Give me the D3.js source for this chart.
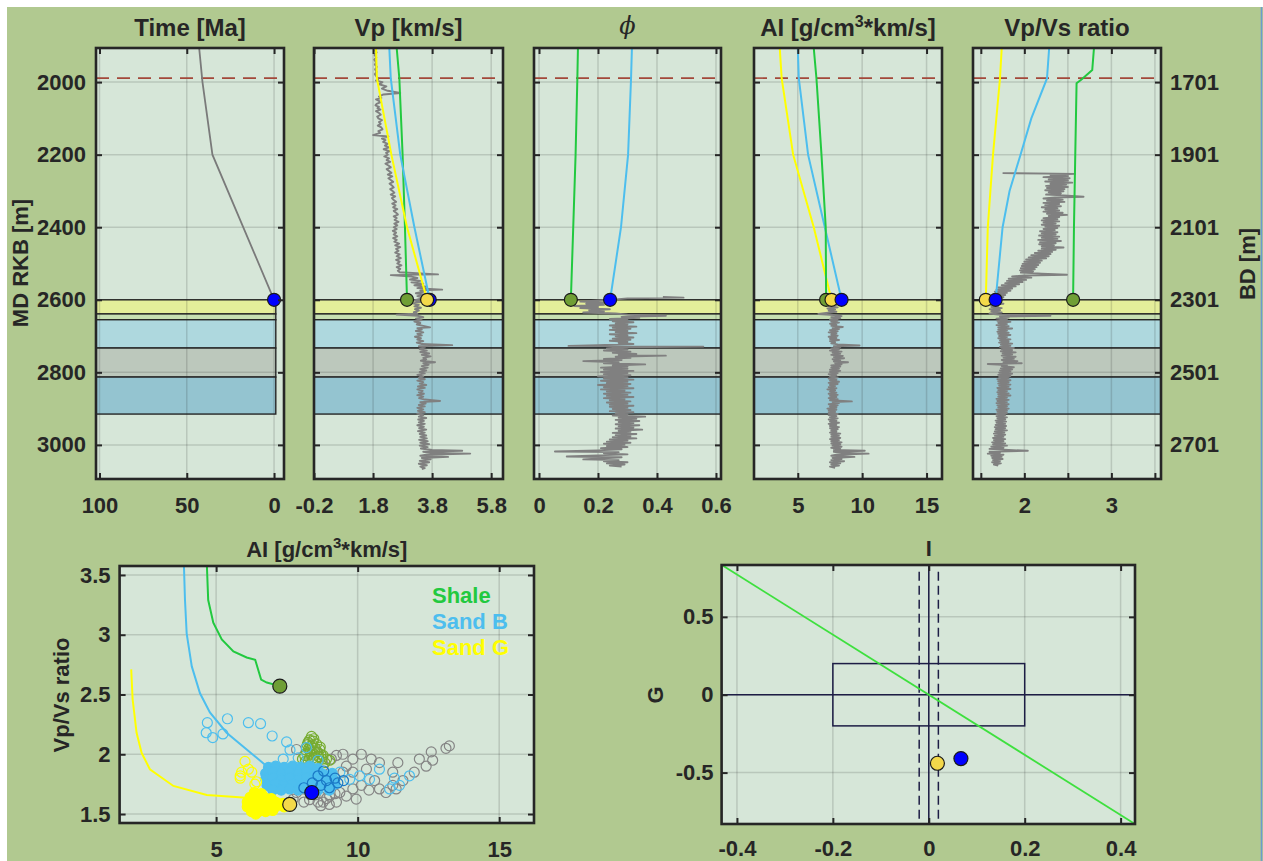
<!DOCTYPE html>
<html>
<head>
<meta charset="utf-8">
<script src="https://cdn.jsdelivr.net/npm/d3@7"></script>
<style>
	body { margin: 0; background: #fff; }
	svg text { font-family: "Liberation Sans", Arial, sans-serif; font-weight: bold; fill: #262626; }
</style>
</head>
<body>
<div class="fig"></div>
<script>
// ---------- data ----------
const depthTicks = [2000, 2200, 2400, 2600, 2800, 3000]
const bdLabels = ["1701", "1901", "2101", "2301", "2501", "2701"]
const markerDepth = 1989

const layerTop = [2600, 2639, 2655, 2733, 2813]
const layerBase = [2639, 2655, 2733, 2813, 2915]

const timeTicks = [100, 50, 0]
const vpTicks = [-0.2, 1.8, 3.8, 5.8]
const phiTicks = [0, 0.2, 0.4, 0.6]
const aiTicks = [5, 10, 15]
const vpvsTicks = [1.5, 2, 2.5, 3, 3.5]
const vpvsTickLabels = ["", "2", "", "3", ""]

// burial history
const timeDepth = [1906, 2000, 2200, 2600]
const timeMa = [42.9, 41, 35.3, 0]

// model trends
const trendDepth = [1906, 1990, 2200, 2400, 2600]
const vpShale = [2.6, 2.69, 2.8, 2.88, 2.95]
const vpSandB = [2.35, 2.4, 2.72, 3.2, 3.72]
const vpSandG = [1.9, 1.93, 2.42, 2.95, 3.63]
const phiShale = [0.132, 0.13, 0.124, 0.116, 0.108]
const phiSandB = [0.315, 0.312, 0.302, 0.278, 0.241]
const aiShale = [6.24, 6.45, 6.84, 7.17, 7.2]
const aiSandB = [5.0, 5.08, 5.8, 7.1, 8.4]
const aiSandG = [3.6, 3.75, 4.64, 6.24, 7.62]
const vpvsShaleDepth = [1906, 1967, 1992, 2003, 2200, 2400, 2600]
const vpvsShale = [2.8, 2.78, 2.66, 2.6, 2.585, 2.57, 2.56]
const vpvsSandBDepth = [1906, 1990, 2100, 2200, 2300, 2400, 2500, 2600]
const vpvsSandB = [2.285, 2.26, 2.08, 1.956, 1.83, 1.75, 1.71, 1.67]
const vpvsSandG = [1.74, 1.72, 1.64, 1.58, 1.557]

// well logs [depth, value]
const vpLog = [[1912,1.86],[1918,1.92],[1925,1.85],[1932,1.91],[1938,1.84],[1945,1.9],[1952,1.86],[1958,1.93],[1965,1.87],[1972,1.92],[1978,1.86],[1985,1.92],[1992,1.97],[1996,1.9],[2000,2.12],[2006,2.0],[2012,2.25],[2018,2.1],[2024,2.3],[2030,2.72],[2034,2.15],[2040,2.0],[2044,2.08],[2048,1.9],[2052,2.0],[2056,2.04],[2060,1.92],[2064,1.88],[2068,2.0],[2072,1.95],[2076,2.05],[2080,1.9],[2085,2.0],[2090,2.06],[2095,1.94],[2100,1.98],[2105,2.1],[2110,2.0],[2115,2.06],[2120,1.96],[2125,2.08],[2130,2.12],[2135,1.98],[2140,2.04],[2146,1.8],[2150,2.32],[2156,2.1],[2160,2.22],[2165,2.14],[2170,2.3],[2175,2.2],[2180,2.34],[2185,2.16],[2190,2.36],[2195,2.24],[2200,2.3],[2205,2.18],[2210,2.34],[2215,2.26],[2220,2.38],[2225,2.22],[2230,2.32],[2235,2.4],[2240,2.26],[2245,2.34],[2250,2.42],[2255,2.3],[2260,2.45],[2265,2.32],[2270,2.4],[2275,2.48],[2280,2.36],[2285,2.44],[2290,2.5],[2295,2.38],[2300,2.46],[2305,2.52],[2310,2.4],[2315,2.55],[2320,2.44],[2325,2.5],[2330,2.58],[2335,2.45],[2340,2.56],[2345,2.48],[2350,2.62],[2355,2.5],[2360,2.58],[2365,2.64],[2370,2.5],[2375,2.6],[2380,2.53],[2385,2.66],[2390,2.52],[2395,2.62],[2400,2.5],[2405,2.6],[2410,2.47],[2415,2.58],[2420,2.5],[2425,2.62],[2430,2.48],[2435,2.6],[2440,2.52],[2445,2.68],[2450,2.55],[2455,2.72],[2460,2.58],[2465,2.66],[2470,2.55],[2475,2.7],[2480,2.6],[2485,2.74],[2490,2.58],[2495,2.7],[2500,2.62],[2505,2.76],[2510,2.6],[2515,2.72],[2520,2.64],[2524,2.7],[2530,4.0],[2532,2.4],[2536,3.1],[2540,3.3],[2544,3.05],[2548,3.4],[2552,3.1],[2556,3.5],[2560,3.2],[2564,3.6],[2568,3.3],[2572,4.14],[2574,3.4],[2578,3.5],[2582,3.25],[2586,3.55],[2590,3.3],[2594,3.5],[2598,3.35],[2602,3.2],[2606,3.4],[2610,3.15],[2614,3.35],[2618,3.2],[2622,3.42],[2626,3.22],[2630,3.35],[2634,3.18],[2638,3.3],[2641,2.6],[2644,3.3],[2648,3.5],[2652,3.25],[2656,3.45],[2660,3.2],[2664,3.4],[2668,3.28],[2672,3.5],[2676,3.73],[2678,3.3],[2682,3.45],[2686,3.25],[2690,3.5],[2694,3.3],[2698,3.45],[2702,3.22],[2706,3.42],[2710,3.3],[2714,3.5],[2718,3.28],[2722,3.45],[2725,4.48],[2728,3.35],[2732,3.55],[2736,3.38],[2740,3.62],[2744,3.4],[2748,3.7],[2752,3.45],[2756,3.75],[2760,3.5],[2764,3.6],[2768,3.42],[2772,3.9],[2775,3.5],[2779,3.68],[2783,3.45],[2787,3.65],[2791,3.4],[2795,3.6],[2799,3.38],[2803,3.55],[2807,3.3],[2811,3.5],[2815,3.35],[2819,3.55],[2823,3.3],[2827,3.5],[2831,3.38],[2835,3.6],[2839,3.32],[2843,3.55],[2847,3.3],[2851,3.48],[2855,3.35],[2859,3.52],[2863,3.3],[2867,3.5],[2871,3.36],[2875,3.55],[2879,4.07],[2882,3.4],[2886,3.58],[2890,3.35],[2894,3.55],[2898,3.3],[2902,3.5],[2906,3.32],[2910,3.55],[2914,3.3],[2918,3.5],[2922,3.35],[2926,3.6],[2930,3.33],[2934,3.52],[2938,3.35],[2942,3.55],[2946,3.3],[2950,3.52],[2954,3.36],[2958,3.6],[2962,3.32],[2966,3.55],[2970,3.38],[2974,3.6],[2978,3.4],[2982,3.62],[2986,3.36],[2990,3.65],[2994,3.4],[2998,3.7],[3002,3.38],[3006,3.65],[3010,3.42],[3014,3.8],[3016,4.82],[3019,3.5],[3022,3.75],[3024,5.09],[3027,3.6],[3030,3.4],[3033,4.34],[3036,3.45],[3040,3.75],[3044,3.38],[3048,3.7],[3052,3.35],[3056,3.62],[3060,3.4],[3064,3.55],[3067,3.45]]

const phiLog = [[2592,0.42],[2594,0.49],[2596,0.3],[2599,0.26],[2602,0.2],[2605,0.14],[2608,0.24],[2611,0.16],[2614,0.22],[2617,0.12],[2620,0.2],[2623,0.14],[2626,0.24],[2629,0.17],[2632,0.22],[2635,0.15],[2638,0.26],[2641,0.3],[2644,0.43],[2647,0.28],[2650,0.34],[2653,0.24],[2656,0.3],[2659,0.25],[2662,0.32],[2665,0.26],[2668,0.3],[2671,0.24],[2674,0.33],[2677,0.25],[2680,0.31],[2683,0.24],[2686,0.3],[2689,0.26],[2692,0.33],[2695,0.24],[2698,0.3],[2701,0.26],[2704,0.32],[2707,0.25],[2710,0.31],[2713,0.24],[2716,0.3],[2719,0.27],[2722,0.32],[2725,0.2],[2727,0.1],[2729,0.557],[2731,0.28],[2734,0.23],[2737,0.3],[2740,0.22],[2743,0.31],[2746,0.25],[2749,0.33],[2752,0.27],[2754,0.43],[2757,0.26],[2760,0.31],[2763,0.22],[2766,0.28],[2769,0.15],[2772,0.27],[2775,0.22],[2778,0.36],[2781,0.25],[2784,0.3],[2787,0.21],[2790,0.3],[2793,0.22],[2796,0.32],[2799,0.21],[2802,0.3],[2805,0.22],[2808,0.31],[2811,0.2],[2814,0.3],[2817,0.22],[2820,0.32],[2823,0.21],[2826,0.3],[2829,0.23],[2832,0.31],[2835,0.2],[2838,0.3],[2841,0.22],[2844,0.32],[2847,0.21],[2850,0.29],[2853,0.23],[2856,0.31],[2859,0.22],[2862,0.3],[2865,0.23],[2868,0.32],[2871,0.22],[2874,0.29],[2877,0.24],[2880,0.31],[2883,0.23],[2886,0.3],[2889,0.24],[2892,0.32],[2895,0.24],[2898,0.3],[2901,0.25],[2904,0.31],[2907,0.24],[2910,0.32],[2913,0.26],[2916,0.3],[2919,0.25],[2922,0.36],[2925,0.27],[2928,0.33],[2931,0.26],[2934,0.34],[2937,0.27],[2940,0.32],[2943,0.26],[2946,0.34],[2949,0.27],[2952,0.32],[2955,0.26],[2958,0.35],[2961,0.27],[2964,0.31],[2967,0.25],[2970,0.33],[2973,0.26],[2976,0.31],[2979,0.25],[2982,0.33],[2985,0.24],[2988,0.3],[2991,0.23],[2994,0.31],[2997,0.22],[3000,0.29],[3003,0.23],[3006,0.3],[3009,0.21],[3012,0.28],[3015,0.2],[3018,0.054],[3020,0.27],[3023,0.22],[3026,0.3],[3029,0.2],[3032,0.094],[3034,0.28],[3037,0.22],[3040,0.15],[3042,0.27],[3045,0.22],[3048,0.3],[3051,0.23],[3054,0.29],[3057,0.24],[3060,0.28]]

const aiLog = [[2597,8.6],[2600,7.6],[2603,8.3],[2606,7.5],[2609,8.2],[2612,7.3],[2615,8.0],[2618,7.4],[2621,8.1],[2624,7.3],[2627,7.9],[2630,7.4],[2633,8.0],[2636,7.2],[2639,6.6],[2642,7.8],[2645,8.4],[2648,7.6],[2651,8.3],[2654,7.5],[2657,8.1],[2660,7.6],[2663,8.2],[2666,7.5],[2669,8.0],[2672,7.6],[2675,8.5],[2678,7.7],[2681,8.2],[2684,7.5],[2687,8.1],[2690,7.4],[2693,8.0],[2696,7.6],[2699,8.1],[2702,7.4],[2705,8.0],[2708,7.5],[2711,8.2],[2714,7.5],[2717,7.9],[2720,7.6],[2723,8.1],[2726,9.8],[2728,7.8],[2731,8.3],[2734,7.6],[2737,8.2],[2740,7.5],[2743,8.4],[2746,7.7],[2749,8.3],[2752,7.6],[2755,8.5],[2758,7.8],[2761,8.6],[2764,7.7],[2767,8.3],[2770,7.8],[2772,8.9],[2775,7.9],[2778,8.4],[2781,7.6],[2784,8.3],[2787,7.6],[2790,8.2],[2793,7.5],[2796,8.3],[2799,7.5],[2802,8.1],[2805,7.4],[2808,8.0],[2811,7.5],[2814,8.1],[2817,7.4],[2820,8.0],[2823,7.5],[2826,8.2],[2829,7.4],[2832,8.1],[2835,7.5],[2838,7.9],[2841,7.4],[2844,8.0],[2847,7.3],[2850,7.9],[2853,7.5],[2856,8.0],[2859,7.4],[2862,8.1],[2865,7.5],[2868,8.0],[2871,7.4],[2874,8.1],[2877,7.5],[2880,9.2],[2882,7.7],[2885,8.2],[2888,7.4],[2891,8.1],[2894,7.5],[2897,8.0],[2900,7.3],[2903,8.0],[2906,7.4],[2909,7.9],[2912,7.4],[2915,8.1],[2918,7.4],[2921,8.0],[2924,7.5],[2927,8.1],[2930,7.4],[2933,8.0],[2936,7.5],[2939,8.2],[2942,7.4],[2945,8.0],[2948,7.5],[2951,8.2],[2954,7.5],[2957,8.1],[2960,7.6],[2963,8.0],[2966,7.5],[2969,8.3],[2972,7.6],[2975,8.2],[2978,7.6],[2981,8.3],[2984,7.5],[2987,8.2],[2990,7.6],[2993,8.4],[2996,7.6],[2999,8.3],[3002,7.7],[3005,8.4],[3008,7.6],[3011,8.3],[3014,7.8],[3016,10.2],[3019,7.8],[3022,8.4],[3024,10.5],[3027,8.0],[3030,7.6],[3033,9.4],[3036,7.7],[3039,8.4],[3042,7.6],[3045,8.6],[3048,7.5],[3051,8.3],[3054,7.6],[3057,8.2],[3060,7.5],[3063,7.9]]

const vpvsLog = [[2251,1.75],[2253,2.58],[2256,2.3],[2259,2.5],[2262,2.22],[2265,2.52],[2268,2.28],[2271,2.5],[2274,2.24],[2277,2.55],[2280,2.3],[2283,2.48],[2286,2.25],[2289,2.5],[2292,2.26],[2295,2.46],[2298,2.24],[2301,2.45],[2304,2.28],[2307,2.42],[2310,2.25],[2313,2.5],[2316,2.68],[2318,2.35],[2321,2.22],[2324,2.44],[2327,2.26],[2330,2.46],[2333,2.22],[2336,2.4],[2339,2.24],[2342,2.42],[2345,2.2],[2348,2.38],[2351,2.24],[2354,2.4],[2357,2.22],[2360,2.44],[2363,2.26],[2366,2.49],[2369,2.28],[2372,2.4],[2375,2.22],[2378,2.38],[2381,2.2],[2384,2.4],[2387,2.22],[2390,2.36],[2393,2.2],[2396,2.4],[2399,2.24],[2402,2.38],[2405,2.22],[2408,2.35],[2411,2.18],[2414,2.38],[2417,2.2],[2420,2.36],[2423,2.17],[2426,2.4],[2429,2.2],[2432,2.38],[2435,2.16],[2438,2.42],[2441,2.18],[2444,2.36],[2447,2.17],[2450,2.34],[2453,2.2],[2456,2.45],[2459,2.2],[2462,2.36],[2465,2.16],[2468,2.32],[2471,2.12],[2474,2.3],[2477,2.08],[2480,2.28],[2483,2.05],[2486,2.25],[2489,2.02],[2492,2.2],[2495,2.0],[2498,2.18],[2501,1.98],[2504,2.16],[2507,1.97],[2510,2.14],[2513,1.96],[2516,2.12],[2519,1.95],[2522,2.1],[2525,1.96],[2528,2.2],[2531,2.49],[2533,2.0],[2536,1.86],[2539,2.08],[2542,1.82],[2545,2.02],[2548,1.8],[2551,1.98],[2554,1.78],[2557,1.94],[2560,1.74],[2563,1.9],[2566,1.7],[2569,1.86],[2572,1.68],[2575,1.84],[2578,1.66],[2581,1.8],[2584,1.65],[2587,1.78],[2590,1.64],[2593,1.76],[2596,1.62],[2599,1.74],[2602,1.6],[2605,1.72],[2608,1.62],[2611,1.76],[2614,1.6],[2617,1.7],[2620,1.62],[2623,1.74],[2626,1.6],[2629,1.72],[2632,1.62],[2635,1.74],[2638,1.6],[2641,1.7],[2644,2.3],[2646,1.72],[2649,1.82],[2652,1.68],[2655,1.8],[2658,1.69],[2661,1.84],[2664,1.7],[2667,1.8],[2670,1.68],[2673,1.82],[2676,1.7],[2679,1.86],[2682,1.7],[2685,1.8],[2688,1.69],[2691,1.82],[2694,1.7],[2697,1.84],[2700,1.71],[2703,1.8],[2706,1.7],[2709,1.84],[2712,1.72],[2715,1.82],[2718,1.71],[2721,1.86],[2724,1.73],[2727,1.84],[2730,1.72],[2733,1.88],[2736,1.74],[2739,1.86],[2742,1.73],[2745,1.9],[2748,1.75],[2751,1.86],[2754,1.74],[2757,1.9],[2760,1.76],[2763,1.88],[2766,1.74],[2769,1.92],[2772,1.76],[2775,1.97],[2777,1.58],[2780,1.8],[2783,1.74],[2786,1.88],[2789,1.73],[2792,1.86],[2795,1.72],[2798,1.84],[2801,1.71],[2804,1.86],[2807,1.7],[2810,1.84],[2813,1.71],[2816,1.82],[2819,1.69],[2822,1.84],[2825,1.7],[2828,1.82],[2831,1.7],[2834,1.84],[2837,1.71],[2840,1.82],[2843,1.69],[2846,1.84],[2849,1.7],[2852,1.8],[2855,1.69],[2858,1.82],[2861,1.7],[2864,1.84],[2867,1.7],[2870,1.8],[2873,1.68],[2876,1.82],[2879,1.69],[2882,1.8],[2885,1.68],[2888,1.82],[2891,1.69],[2894,1.8],[2897,1.7],[2900,1.82],[2903,1.68],[2906,1.8],[2909,1.69],[2912,1.8],[2915,1.68],[2918,1.78],[2921,1.68],[2924,1.8],[2927,1.69],[2930,1.78],[2933,1.67],[2936,1.79],[2939,1.68],[2942,1.78],[2945,1.67],[2948,1.79],[2951,1.66],[2954,1.78],[2957,1.67],[2960,1.8],[2963,1.66],[2966,1.77],[2969,1.65],[2972,1.78],[2975,1.66],[2978,1.76],[2981,1.64],[2984,1.78],[2987,1.65],[2990,1.76],[2993,1.63],[2996,1.78],[2999,1.64],[3002,1.8],[3005,1.62],[3008,1.76],[3011,1.6],[3014,1.82],[3016,2.04],[3019,1.6],[3022,1.72],[3024,1.58],[3027,1.76],[3030,1.62],[3033,1.74],[3036,1.63],[3039,1.75],[3042,1.64],[3045,1.72],[3048,1.63],[3051,1.73],[3054,1.65],[3057,1.7]]

// crossplot AI vs Vp/Vs
const scAITicks = [5, 10, 15]
const scVpVsTicks = [1.5, 2, 2.5, 3, 3.5]
const scShaleAI = [4.67, 4.72, 4.9, 5.2, 5.61, 6.08, 6.38, 6.59, 6.79, 7.25]
const scShaleVpVs = [3.6, 3.29, 3.1, 2.96, 2.86, 2.81, 2.79, 2.625, 2.6, 2.57]
const scSandBAI = [3.86, 3.9, 3.96, 4.14, 4.43, 4.78, 5.37, 6.08, 6.79, 7.02, 8.38]
const scSandBVpVs = [3.6, 3.29, 3.01, 2.735, 2.51, 2.35, 2.18, 2.04, 1.9, 1.84, 1.68]
const scSandGAI = [2.0, 2.05, 2.19, 2.37, 2.66, 3.49, 4.67, 6.2, 7.6]
const scSandGVpVs = [2.71, 2.46, 2.18, 2.01, 1.875, 1.735, 1.66, 1.634, 1.58]

const otherPts = [[13.24,2.07],[13.12,2.05],[12.6,2.02],[12.65,1.95],[12.18,1.96],[12.42,1.9],[11.42,1.93],[11.24,1.85],[10.77,1.93],[10.48,1.96],[10.13,2.0],[9.83,1.96],[9.48,2.0],[9.07,1.96],[8.78,1.9],[9.83,1.85],[10.31,1.875],[9.83,1.71],[9.37,1.68],[9.01,1.65],[8.78,1.6],[8.6,1.6],[9.25,1.6],[9.95,1.625],[10.77,1.71],[11.0,1.68],[11.36,1.71],[11.24,1.74],[7.84,1.68],[7.72,1.625],[8.07,1.71],[8.9,1.71],[9.48,1.85],[9.25,1.99],[8.55,2.02],[7.84,2.04],[9.6,1.9],[10.13,1.74],[9.13,1.79],[8.5,1.66],[8.9,1.63],[9.2,1.67],[8.3,1.62],[9.6,1.65],[10.4,1.7],[10.6,1.78],[11.6,1.78],[12.0,1.85],[8.1,1.6],[8.7,1.57],[9.0,1.58]]
const shalePts = [[8.37,2.15],[8.43,2.11],[8.25,2.1],[8.55,2.085],[8.19,2.056],[8.66,2.04],[8.31,2.03],[8.49,2.02],[8.13,1.99],[8.78,1.99],[8.43,1.97],[9.01,1.95],[8.25,1.95],[8.6,1.95],[8.9,1.96],[8.35,2.07],[8.5,2.05],[8.7,2.0],[8.2,2.01],[8.05,1.96],[8.3,2.12],[8.45,2.13],[8.4,2.08],[8.28,2.05],[8.58,2.02],[8.36,2.0],[8.62,1.98],[8.3,1.97],[8.75,1.96],[8.15,1.94],[8.52,1.94],[8.84,1.93],[8.4,1.93],[8.68,2.06],[8.22,2.08]]
const sandBPts = [[4.69,2.264],[5.4,2.297],[4.65,2.18],[4.88,2.14],[5.24,2.17],[6.14,2.264],[6.57,2.256],[6.98,2.153],[7.49,2.103],[7.61,2.036],[8.19,2.056],[7.37,1.96],[11.83,1.82],[11.48,1.74],[11.13,1.71],[10.77,1.875],[10.42,1.79],[10.07,1.82],[9.72,1.79],[9.37,1.85],[11.3,1.8],[7.9,1.97],[8.6,1.95]]
const sandBDense = [[6.85,1.89],[7.1,1.9],[7.4,1.89],[7.7,1.9],[8.0,1.89],[8.3,1.9],[8.6,1.88],[6.75,1.84],[7.0,1.85],[7.3,1.84],[7.6,1.85],[7.9,1.84],[8.2,1.85],[8.5,1.84],[8.8,1.83],[9.1,1.84],[6.75,1.79],[7.0,1.8],[7.3,1.79],[7.6,1.8],[7.9,1.79],[8.2,1.8],[8.5,1.79],[8.8,1.78],[9.1,1.79],[6.8,1.74],[7.1,1.75],[7.4,1.74],[7.7,1.75],[8.0,1.74],[8.3,1.75],[8.6,1.74],[8.9,1.74],[9.2,1.75],[7.0,1.7],[7.3,1.7],[7.6,1.71],[7.9,1.7],[8.2,1.71],[8.6,1.7],[9.0,1.7]]
const sandB2Pts = [[8.6,1.82],[8.9,1.78],[9.2,1.8],[8.7,1.74],[9.0,1.72],[8.4,1.76],[9.3,1.76],[8.8,1.86],[8.1,1.72],[9.5,1.78]]
const sandGPts = [[6.02,1.94],[5.9,1.85],[5.85,1.8],[6.14,1.875],[6.26,1.85],[6.43,1.77],[5.85,1.82],[6.37,1.75]]
const sandGDense = [[6.35,1.68],[6.6,1.67],[6.2,1.64],[6.45,1.64],[6.7,1.64],[6.95,1.63],[6.1,1.6],[6.35,1.6],[6.6,1.6],[6.85,1.6],[7.1,1.6],[7.35,1.59],[6.1,1.56],[6.35,1.56],[6.6,1.56],[6.85,1.56],[7.1,1.56],[7.4,1.56],[6.25,1.52],[6.5,1.52],[6.75,1.52],[7.0,1.53],[6.4,1.5]]
const legendNames = ["Shale", "Sand B", "Sand G"]

// AVO intercept / gradient
const iTicks = [-0.4, -0.2, 0, 0.2, 0.4]
const gTicks = [-0.5, 0, 0.5]
const trendLineI = [-0.43, 0.43]
const trendLineG = [0.83, -0.83]
const boxI = [-0.2, 0.2]
const boxG = [-0.2, 0.2]
const dashI = [-0.02, 0.02]
const sandBIG = [0.067, -0.41]
const sandGIG = [0.018, -0.44]

// ---------- styles ----------
const ink = "#262626"
const panelFill = "#d6e6d8"
const cShale = "#22c93f", cSandB = "#4dbeee", cSandG = "#ffff00"
const dotShale = "#6f9e35", dotSandB = "#0000ff", dotSandG = "#f3d94a"
const layerColor = ["#e4ee9a", "#c6dfb2", "#aed8de", "#bcc8bc", "#94c4d0"]

const svg = d3.select(".fig").append("svg").attr("width", 1263).attr("height", 861)
svg.append("rect").attr("x", 7).attr("y", 7).attr("width", 1256).attr("height", 854).attr("fill", "#b1c990")
svg.append("line").attr("x1", 1261.5).attr("x2", 1261.5).attr("y1", 7).attr("y2", 861)
	.attr("stroke", "#6c9bcf").attr("stroke-width", 1.5)

function base(id, xs, ys) {
	const xa = d3.min(xs.range()), xb = d3.max(xs.range())
	const ya = d3.min(ys.range()), yb = d3.max(ys.range())
	svg.append("clipPath").attr("id", id).append("rect")
		.attr("x", xa).attr("y", ya).attr("width", xb - xa).attr("height", yb - ya)
	svg.append("rect").attr("x", xa).attr("y", ya).attr("width", xb - xa).attr("height", yb - ya)
		.attr("fill", panelFill)
	const g = svg.append("g").attr("clip-path", `url(#${id})`)
	return { g, xa, xb, ya, yb }
}

function grid(p, xs, ys, xt, yt) {
	const gg = p.g.append("g").attr("stroke", ink).attr("stroke-opacity", 0.16).attr("stroke-width", 1.5)
	gg.selectAll("line.vx").data(xt).join("line").attr("class", "vx")
		.attr("x1", d => xs(d)).attr("x2", d => xs(d)).attr("y1", p.ya).attr("y2", p.yb)
	gg.selectAll("line.hy").data(yt).join("line").attr("class", "hy")
		.attr("y1", d => ys(d)).attr("y2", d => ys(d)).attr("x1", p.xa).attr("x2", p.xb)
}

function styleAxis(g, size) {
	g.select(".domain").remove()
	g.attr("font-size", size).attr("font-family", null).attr("color", ink)
	g.selectAll(".tick line").attr("stroke-width", 2)
	g.selectAll(".tick text").attr("font-weight", "bold")
}

function frame(p, xs, ys, xt, yt, o) {
	const t = 6
	svg.append("g").attr("transform", `translate(0,${p.yb})`)
		.call(d3.axisBottom(xs).tickValues(xt).tickSize(-t).tickPadding(o.bPad || 18)
			.tickFormat(o.xFmt || (() => "")))
		.call(g => styleAxis(g, o.fs || 22))
	svg.append("g").attr("transform", `translate(0,${p.ya})`)
		.call(d3.axisTop(xs).tickValues(xt).tickSize(-t).tickFormat(() => ""))
		.call(g => styleAxis(g, 10))
	svg.append("g").attr("transform", `translate(${p.xa},0)`)
		.call(d3.axisLeft(ys).tickValues(yt).tickSize(-t).tickPadding(o.lPad || 10)
			.tickFormat(o.yFmt || (() => "")))
		.call(g => styleAxis(g, o.fs || 22))
	svg.append("g").attr("transform", `translate(${p.xb},0)`)
		.call(d3.axisRight(ys).tickValues(yt).tickSize(-t).tickPadding(9)
			.tickFormat(o.rFmt || (() => "")))
		.call(g => styleAxis(g, o.fs || 22))
	svg.append("rect").attr("x", p.xa).attr("y", p.ya).attr("width", p.xb - p.xa).attr("height", p.yb - p.ya)
		.attr("fill", "none").attr("stroke", ink).attr("stroke-width", 2.6)
}

function dot(x, y, fill, r) {
	svg.append("circle").attr("cx", x).attr("cy", y).attr("r", r || 6.5)
		.attr("fill", fill).attr("stroke", "#1a1a1a").attr("stroke-width", 1.2)
}

// ---------- depth panels ----------
const yDepth = d3.scaleLinear().domain([1906, 3094]).range([48, 479])
const xTime = d3.scaleLinear().domain([102, -5.7]).range([96, 284])
const xVp = d3.scaleLinear().domain([-0.2, 6.2]).range([314, 503])
const xPhi = d3.scaleLinear().domain([-0.017, 0.617]).range([534, 721])
const xAI = d3.scaleLinear().domain([1.6, 16.2]).range([754, 942])
const xVpVs = d3.scaleLinear().domain([1.41, 3.57]).range([973, 1161])

const panels = [
	{ id: "pTime", xs: xTime, ticks: timeTicks, fmt: d => String(d) },
	{ id: "pVp", xs: xVp, ticks: vpTicks, fmt: d => String(d) },
	{ id: "pPhi", xs: xPhi, ticks: phiTicks, fmt: d => String(d) },
	{ id: "pAI", xs: xAI, ticks: aiTicks, fmt: d => String(d) },
	{ id: "pVpVs", xs: xVpVs, ticks: vpvsTicks, fmt: (d, i) => vpvsTickLabels[i] }
]

const logLine = xs => d3.line().x(d => xs(d[1])).y(d => yDepth(d[0]))
const trendLine = (xs, depths, vals, color, g) => g.append("path")
	.datum(depths.map((d, i) => [d, vals[i]]))
	.attr("d", d3.line().x(d => xs(d[1])).y(d => yDepth(d[0])))
	.attr("fill", "none").attr("stroke", color).attr("stroke-width", 2)

panels.forEach(function (pd, k) {
	const p = base(pd.id, pd.xs, yDepth)
	pd.p = p
	const bandRight = k === 0 ? xTime(-1) : p.xb + 2
	const bandLeft = p.xa - 2
	p.g.selectAll("rect.layer").data(layerTop).join("rect").attr("class", "layer")
		.attr("x", bandLeft).attr("width", bandRight - bandLeft)
		.attr("y", d => yDepth(d)).attr("height", (d, i) => yDepth(layerBase[i]) - yDepth(d))
		.attr("fill", (d, i) => layerColor[i]).attr("stroke", ink).attr("stroke-width", 1.4)
	grid(p, pd.xs, yDepth, pd.ticks, depthTicks)
	p.g.append("line").attr("x1", p.xa).attr("x2", p.xb)
		.attr("y1", yDepth(markerDepth)).attr("y2", yDepth(markerDepth))
		.attr("stroke", "#a3483a").attr("stroke-width", 1.6).attr("stroke-dasharray", "13,8")
})

// Time panel
const pt = panels[0].p
pt.g.append("path").datum(timeDepth.map((d, i) => [d, timeMa[i]]))
	.attr("d", d3.line().x(d => xTime(d[1])).y(d => yDepth(d[0])))
	.attr("fill", "none").attr("stroke", "#7a7a7a").attr("stroke-width", 1.8)

// logs
;[[1, vpLog, xVp], [2, phiLog, xPhi], [3, aiLog, xAI], [4, vpvsLog, xVpVs]].forEach(function (a) {
	panels[a[0]].p.g.append("path").datum(a[1]).attr("d", logLine(a[2]))
		.attr("fill", "none").attr("stroke", "#808080").attr("stroke-width", 1.9)
		.attr("stroke-linejoin", "round")
})

// trends
trendLine(xVp, trendDepth, vpShale, cShale, panels[1].p.g)
trendLine(xVp, trendDepth, vpSandB, cSandB, panels[1].p.g)
trendLine(xVp, trendDepth, vpSandG, cSandG, panels[1].p.g)
trendLine(xPhi, trendDepth, phiShale, cShale, panels[2].p.g)
trendLine(xPhi, trendDepth, phiSandB, cSandB, panels[2].p.g)
trendLine(xAI, trendDepth, aiSandG, cSandG, panels[3].p.g)
trendLine(xAI, trendDepth, aiSandB, cSandB, panels[3].p.g)
trendLine(xAI, trendDepth, aiShale, cShale, panels[3].p.g)
trendLine(xVpVs, trendDepth, vpvsSandG, cSandG, panels[4].p.g)
trendLine(xVpVs, vpvsSandBDepth, vpvsSandB, cSandB, panels[4].p.g)
trendLine(xVpVs, vpvsShaleDepth, vpvsShale, cShale, panels[4].p.g)

// dots at the reservoir top
const dTop = yDepth(trendDepth[4])
dot(xTime(timeMa[3]), yDepth(timeDepth[3]), dotSandB)
dot(xVp(vpShale[4]), dTop, dotShale)
dot(xVp(vpSandB[4]), dTop, dotSandB)
dot(xVp(vpSandG[4]), dTop, dotSandG)
dot(xPhi(phiShale[4]), dTop, dotShale)
dot(xPhi(phiSandB[4]), dTop, dotSandB)
dot(xAI(aiShale[4]), dTop, dotShale)
dot(xAI(aiSandG[4]), dTop, dotSandG)
dot(xAI(aiSandB[4]), dTop, dotSandB)
dot(xVpVs(vpvsShale[6]), dTop, dotShale)
dot(xVpVs(vpvsSandG[4]), dTop, dotSandG)
dot(xVpVs(vpvsSandB[7]), dTop, dotSandB)

panels.forEach(function (pd, k) {
	frame(pd.p, pd.xs, yDepth, pd.ticks, depthTicks, {
		xFmt: pd.fmt,
		yFmt: k === 0 ? (d => String(d)) : null,
		rFmt: k === 4 ? ((d, i) => bdLabels[i]) : null
	})
})

// titles
const titleY = 36
svg.append("text").attr("x", d3.mean(xTime.range())).attr("y", titleY).attr("text-anchor", "middle")
	.attr("font-size", 24).text("Time [Ma]")
svg.append("text").attr("x", d3.mean(xVp.range())).attr("y", titleY).attr("text-anchor", "middle")
	.attr("font-size", 24).text("Vp [km/s]")
svg.append("text").attr("x", d3.mean(xPhi.range())).attr("y", titleY - 2).attr("text-anchor", "middle")
	.attr("font-size", 24).attr("font-style", "italic")
	.style("font-family", "'DejaVu Serif', serif").style("font-weight", "normal").text("ϕ")
const aiTitle = svg.append("text").attr("x", d3.mean(xAI.range())).attr("y", titleY)
	.attr("text-anchor", "middle").attr("font-size", 24)
aiTitle.append("tspan").text("AI [g/cm")
aiTitle.append("tspan").attr("dy", -9).attr("font-size", 16).text("3")
aiTitle.append("tspan").attr("dy", 9).text("*km/s]")
svg.append("text").attr("x", d3.mean(xVpVs.range())).attr("y", titleY).attr("text-anchor", "middle")
	.attr("font-size", 24).text("Vp/Vs ratio")

svg.append("text").attr("transform", "translate(28,263) rotate(-90)").attr("text-anchor", "middle")
	.attr("font-size", 22).text("MD RKB [m]")
svg.append("text").attr("transform", "translate(1255,264) rotate(-90)").attr("text-anchor", "middle")
	.attr("font-size", 22).text("BD [m]")

// ---------- crossplot ----------
const xSc = d3.scaleLinear().domain([1.59, 16.23]).range([119.6, 534])
const ySc = d3.scaleLinear().domain([1.425, 3.575]).range([823, 566])
const ps = base("pSc", xSc, ySc)
grid(ps, xSc, ySc, scAITicks, scVpVsTicks)
const scLine = (ai, vv, color) => ps.g.append("path").datum(ai.map((d, i) => [d, vv[i]]))
	.attr("d", d3.line().x(d => xSc(d[0])).y(d => ySc(d[1])))
	.attr("fill", "none").attr("stroke", color).attr("stroke-width", 2)
scLine(scShaleAI, scShaleVpVs, cShale)
scLine(scSandBAI, scSandBVpVs, cSandB)
scLine(scSandGAI, scSandGVpVs, cSandG)

function pts(data, color, filled) {
	ps.g.append("g").selectAll("circle").data(data).join("circle")
		.attr("cx", d => xSc(d[0])).attr("cy", d => ySc(d[1])).attr("r", 5)
		.attr("fill", filled ? color : "none").attr("stroke", color).attr("stroke-width", 1.2)
}
pts(otherPts, "#858585", false)
pts(shalePts, "#77ac30", false)
pts(sandBPts, cSandB, false)
pts(sandBDense, cSandB, true)
pts(sandB2Pts, "#1a78c6", false)
pts(sandGPts, cSandG, false)
pts(sandGDense, cSandG, true)

dot(xSc(scShaleAI[9]), ySc(scShaleVpVs[9]), dotShale, 7)
dot(xSc(scSandGAI[8]), ySc(scSandGVpVs[8]), dotSandG, 7)
dot(xSc(scSandBAI[10]), ySc(scSandBVpVs[10]), dotSandB, 7)

frame(ps, xSc, ySc, scAITicks, scVpVsTicks, { xFmt: d => String(d), yFmt: d => String(d), bPad: 18, lPad: 9 })

svg.selectAll("text.leg").data(legendNames).join("text").attr("class", "leg")
	.attr("x", 432).attr("y", (d, i) => 603 + i * 26).attr("font-size", 22)
	.style("fill", (d, i) => [cShale, cSandB, cSandG][i]).text(d => d)

const scTitle = svg.append("text").attr("x", d3.mean(xSc.range())).attr("y", 557)
	.attr("text-anchor", "middle").attr("font-size", 22)
scTitle.append("tspan").text("AI [g/cm")
scTitle.append("tspan").attr("dy", -9).attr("font-size", 15).text("3")
scTitle.append("tspan").attr("dy", 9).text("*km/s]")
svg.append("text").attr("transform", "translate(69,695) rotate(-90)").attr("text-anchor", "middle")
	.attr("font-size", 22).text("Vp/Vs ratio")

// ---------- intercept / gradient ----------
const xI = d3.scaleLinear().domain([-0.432, 0.43]).range([721.6, 1135])
const yG = d3.scaleLinear().domain([-0.83, 0.833]).range([824, 565])
const pg = base("pIG", xI, yG)
grid(pg, xI, yG, iTicks, gTicks)
const navy = "#1d1d45"
pg.g.append("rect").attr("x", xI(boxI[0])).attr("width", xI(boxI[1]) - xI(boxI[0]))
	.attr("y", yG(boxG[1])).attr("height", yG(boxG[0]) - yG(boxG[1]))
	.attr("fill", "none").attr("stroke", navy).attr("stroke-width", 1.5)
pg.g.append("line").attr("x1", pg.xa).attr("x2", pg.xb).attr("y1", yG(0)).attr("y2", yG(0))
	.attr("stroke", navy).attr("stroke-width", 1.5)
pg.g.append("line").attr("x1", xI(0)).attr("x2", xI(0)).attr("y1", pg.ya).attr("y2", pg.yb)
	.attr("stroke", navy).attr("stroke-width", 1.5)
pg.g.selectAll("line.dash").data(dashI).join("line").attr("class", "dash")
	.attr("x1", d => xI(d)).attr("x2", d => xI(d)).attr("y1", yG(0.79)).attr("y2", pg.yb)
	.attr("stroke", navy).attr("stroke-width", 1.5).attr("stroke-dasharray", "9,5")
pg.g.append("line").attr("x1", xI(trendLineI[0])).attr("y1", yG(trendLineG[0]))
	.attr("x2", xI(trendLineI[1])).attr("y2", yG(trendLineG[1]))
	.attr("stroke", "#3ee03e").attr("stroke-width", 1.8)
dot(xI(sandGIG[0]), yG(sandGIG[1]), dotSandG, 7)
dot(xI(sandBIG[0]), yG(sandBIG[1]), dotSandB, 7)
frame(pg, xI, yG, iTicks, gTicks, { xFmt: d => String(d), yFmt: d => String(d), bPad: 16, lPad: 8 })
svg.append("text").attr("x", xI(0)).attr("y", 556).attr("text-anchor", "middle")
	.attr("font-size", 22).text("I")
svg.append("text").attr("transform", "translate(663,695) rotate(-90)").attr("text-anchor", "middle")
	.attr("font-size", 22).text("G")
</script>
</body>
</html>
